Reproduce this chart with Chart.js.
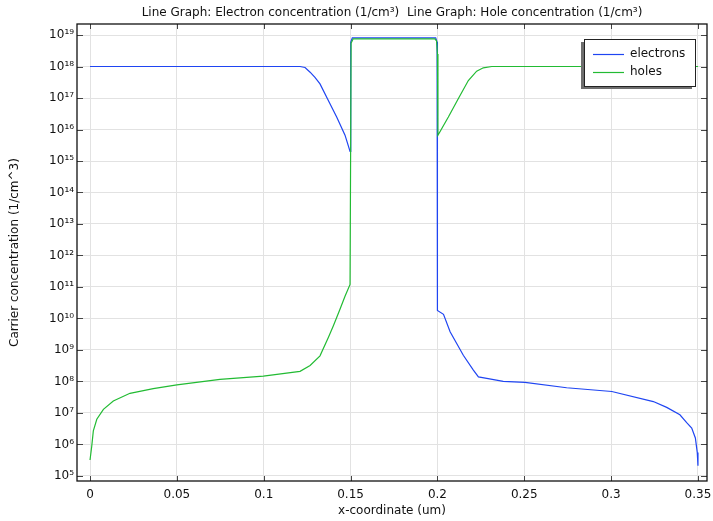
<!DOCTYPE html>
<html>
<head>
<meta charset="utf-8">
<script src="https://cdn.jsdelivr.net/npm/chart.js@4.4.1/dist/chart.umd.min.js"></script>
<style>
  html, body { margin: 0; padding: 0; background: #fff; }
  canvas { display: block; }
</style>
</head>
<body>
<canvas id="carrier_chart" width="713" height="521"></canvas>
<script>
// x-coordinate (um) and carrier concentration (1/cm^3)
const x_electrons = [0, 0.05, 0.1, 0.1209, 0.1238, 0.1267, 0.1295, 0.1324, 0.1372, 0.1420, 0.1468, 0.1497, 0.15,
  0.1502, 0.151, 0.175, 0.199, 0.1998, 0.2, 0.2035, 0.2073, 0.2149, 0.2207, 0.2236, 0.2284, 0.2379, 0.2504, 0.2744,
  0.3004, 0.3243, 0.332, 0.3396, 0.3435, 0.3464, 0.3485, 0.3496, 0.35];
const electrons = [1.0e18, 1.0e18, 1.0e18, 1.0e18, 9.3e17, 6.6e17, 4.5e17, 2.8e17, 8.3e16, 2.5e16, 6.6e15, 2.0e15, 2.0e15,
  6.0e18, 8.1e18, 8.1e18, 8.1e18, 6.0e18, 1.8e10, 1.35e10, 3.8e9, 6.8e8, 2.3e8, 1.4e8, 1.26e8, 1.0e8, 9.3e7, 6.3e7,
  4.8e7, 2.3e7, 1.5e7, 8.7e6, 4.9e6, 3.3e6, 1.6e6, 5.5e5, 2.1e5];

const x_holes = [0, 0.001, 0.0019, 0.0039, 0.0077, 0.0134, 0.023, 0.0364, 0.05, 0.0748, 0.0998, 0.1209, 0.1267,
  0.1324, 0.1372, 0.1401, 0.1439, 0.1468, 0.1497, 0.15, 0.1503, 0.1515, 0.175, 0.1985, 0.1995, 0.2, 0.2003,
  0.2063, 0.2120, 0.2178, 0.2226, 0.2264, 0.2313, 0.3, 0.35];
const holes = [3.2e5, 8.9e5, 2.7e6, 6.3e6, 1.3e7, 2.4e7, 4.2e7, 5.9e7, 7.8e7, 1.17e8, 1.48e8, 2.1e8, 3.2e8,
  6.5e8, 2.5e9, 5.9e9, 1.95e10, 5.1e10, 1.2e11, 1.2e11, 5.5e18, 7.6e18, 7.6e18, 7.6e18, 6.5e18, 2.5e18, 6.6e15,
  2.5e16, 9.5e16, 3.6e17, 7.1e17, 9.1e17, 1.0e18, 1.0e18, 1.0e18];

const x_ticks = [0, 0.05, 0.1, 0.15, 0.2, 0.25, 0.3, 0.35];
const x_tick_labels = ["0", "0.05", "0.1", "0.15", "0.2", "0.25", "0.3", "0.35"];
const y_tick_exps = [5, 6, 7, 8, 9, 10, 11, 12, 13, 14, 15, 16, 17, 18, 19];

const series_labels = ["electrons", "holes"];
const series_colors = ["#1f45f2", "#22bb33"];

const FONT = "'DejaVu Sans', sans-serif";
const sup_digits = "⁰¹²³⁴⁵⁶⁷⁸⁹";

function sup(n) {
  return String(n).split("").map(d => sup_digits[+d]).join("");
}

function to_points(xs, ys) {
  return xs.map((x, i) => ({ x: x, y: ys[i] }));
}

// frame round the plot area plus inward tick marks on all four sides
const frame_plugin = {
  id: "frame",
  afterDatasetsDraw(chart) {
    const ctx = chart.ctx;
    const a = chart.chartArea;
    const xs = chart.scales.x, ys = chart.scales.y;
    ctx.save();
    ctx.strokeStyle = "#444";
    ctx.lineWidth = 1;
    ctx.beginPath();
    x_ticks.forEach(v => {
      const px = Math.round(xs.getPixelForValue(v)) + 0.5;
      ctx.moveTo(px, a.bottom); ctx.lineTo(px, a.bottom - 5);
      ctx.moveTo(px, a.top); ctx.lineTo(px, a.top + 5);
    });
    y_tick_exps.forEach(e => {
      const py = Math.round(ys.getPixelForValue(Math.pow(10, e))) + 0.5;
      ctx.moveTo(a.left, py); ctx.lineTo(a.left + 6, py);
      ctx.moveTo(a.right, py); ctx.lineTo(a.right - 6, py);
    });
    ctx.stroke();
    ctx.strokeStyle = "#111";
    ctx.lineWidth = 1.3;
    ctx.strokeRect(a.left, a.top, a.right - a.left, a.bottom - a.top);
    ctx.restore();
  }
};

// boxed legend with a drop shadow, drawn above the lines
const legend_plugin = {
  id: "boxlegend",
  afterDraw(chart) {
    const ctx = chart.ctx;
    const a = chart.chartArea;
    const w = 111, h = 47;
    const left = a.right - 123, top = a.top + 15;
    ctx.save();
    ctx.fillStyle = "#6e6e6e";
    ctx.fillRect(left - 3, top + 3, w, h);
    ctx.fillStyle = "#fff";
    ctx.fillRect(left, top, w, h);
    ctx.strokeStyle = "#222";
    ctx.lineWidth = 1;
    ctx.strokeRect(left + 0.5, top + 0.5, w, h);
    ctx.font = "12px " + FONT;
    ctx.textBaseline = "middle";
    chart.data.datasets.forEach((ds, i) => {
      const y = top + 15 + i * 18;
      ctx.strokeStyle = ds.borderColor;
      ctx.lineWidth = 1.2;
      ctx.beginPath();
      ctx.moveTo(left + 9, y + 0.5);
      ctx.lineTo(left + 40, y + 0.5);
      ctx.stroke();
      ctx.fillStyle = "#111";
      ctx.fillText(ds.label, left + 46, y);
    });
    ctx.restore();
  }
};

new Chart(document.getElementById("carrier_chart").getContext("2d"), {
  type: "line",
  data: {
    datasets: [
      {
        label: series_labels[0],
        data: to_points(x_electrons, electrons),
        borderColor: series_colors[0],
        borderWidth: 1.2,
        pointRadius: 0,
        tension: 0,
        fill: false,
        order: 1
      },
      {
        label: series_labels[1],
        data: to_points(x_holes, holes),
        borderColor: series_colors[1],
        borderWidth: 1.2,
        pointRadius: 0,
        tension: 0,
        fill: false,
        order: 0
      }
    ]
  },
  options: {
    responsive: false,
    animation: false,
    layout: { padding: { left: 0, right: 6, top: 0, bottom: 0 } },
    plugins: {
      legend: { display: false },
      tooltip: { enabled: false },
      title: {
        display: true,
        fullSize: false,
        text: "Line Graph: Electron concentration (1/cm³)  Line Graph: Hole concentration (1/cm³)",
        color: "#111",
        font: { family: FONT, size: 12, weight: "normal" },
        padding: { top: 6, bottom: 3.6 }
      }
    },
    scales: {
      x: {
        type: "linear",
        min: -0.0075,
        max: 0.3552,
        afterBuildTicks: s => { s.ticks = x_ticks.map(v => ({ value: v })); },
        afterFit: s => { s.height = 40; s.paddingLeft = 0; s.paddingRight = 0; },
        grid: { color: "#e2e2e2", lineWidth: 1, drawTicks: false },
        border: { display: false },
        ticks: {
          color: "#111",
          font: { family: FONT, size: 12 },
          padding: 7,
          maxRotation: 0,
          callback: (v, i) => x_tick_labels[i]
        },
        title: {
          display: true,
          text: "x-coordinate (um)",
          color: "#111",
          font: { family: FONT, size: 12 },
          padding: { top: 0, bottom: 2.5 }
        }
      },
      y: {
        type: "logarithmic",
        min: 6.9e4,
        max: 2.24e19,
        afterBuildTicks: s => { s.ticks = y_tick_exps.map(e => ({ value: Math.pow(10, e) })); },
        afterFit: s => { s.width = 77; },
        grid: { color: "#e2e2e2", lineWidth: 1, drawTicks: false },
        border: { display: false },
        ticks: {
          color: "#111",
          font: { family: FONT, size: 12 },
          padding: 3,
          callback: (v, i) => "10" + sup(y_tick_exps[i])
        },
        title: {
          display: true,
          text: "Carrier concentration (1/cm^3)",
          color: "#111",
          font: { family: FONT, size: 12 },
          padding: { top: 8, bottom: 0 }
        }
      }
    }
  },
  plugins: [frame_plugin, legend_plugin]
});
</script>
</body>
</html>
